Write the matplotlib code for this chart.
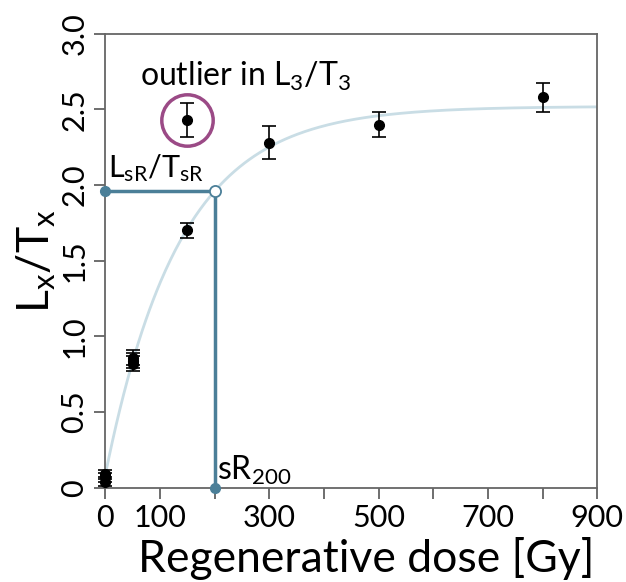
import numpy as np
import matplotlib.pyplot as plt

plt.rcParams['font.family'] = ['Lato', 'DejaVu Sans']
plt.rcParams['mathtext.default'] = 'regular'

# measured Lx/Tx points
dose = [0, 0, 0, 50, 50, 50, 150, 300, 500, 800]
ratio = [0.09, 0.07, 0.04, 0.86, 0.84, 0.82, 1.70, 2.28, 2.40, 2.58]
ratio_err = [0.03, 0.03, 0.03, 0.05, 0.05, 0.05, 0.05, 0.11, 0.08, 0.095]

# outlier in L3/T3
outlier_dose = [150]
outlier_ratio = [2.43]
outlier_err = [0.11]

# saturating exponential fit: y = b + a * (1 - exp(-x / d0))
fit_a = 2.44
fit_b = 0.08
fit_d0 = 136

# sensitivity-corrected regenerative dose
sr_dose = 200
sr_ratio = 1.96

x_ticks = [0, 100, 200, 300, 400, 500, 600, 700, 800, 900]
x_labels = ['0', '100', '', '300', '', '500', '', '700', '', '900']
y_ticks = [0, 0.5, 1.0, 1.5, 2.0, 2.5, 3.0]
y_labels = ['0', '0.5', '1.0', '1.5', '2.0', '2.5', '3.0']

fig, ax = plt.subplots(figsize=(6.26, 5.82), dpi=100)
fig.subplots_adjust(left=0.168, right=0.954, bottom=0.162, top=0.942)

xs = np.linspace(0, 900, 400)
ax.plot(xs, fit_b + fit_a * (1 - np.exp(-xs / fit_d0)), color='#c9dde5', lw=2, zorder=1)

blue = '#4b7f98'
ax.plot([0, sr_dose], [sr_ratio, sr_ratio], color=blue, lw=2.5, zorder=2, clip_on=False)
ax.plot([sr_dose, sr_dose], [sr_ratio, 0], color=blue, lw=2.5, zorder=2, clip_on=False)
ax.plot([0, sr_dose], [sr_ratio, 0], 'o', color=blue, ms=7, zorder=5, clip_on=False)
ax.plot([sr_dose], [sr_ratio], 'o', mfc='white', mec=blue, mew=1.3, ms=8, zorder=5)

ax.errorbar(dose, ratio, yerr=ratio_err, fmt='o', color='black', ms=7,
            capsize=5, elinewidth=1.2, capthick=1.2, zorder=4, clip_on=False)
ax.errorbar(outlier_dose, outlier_ratio, yerr=outlier_err, fmt='o', color='black', ms=7,
            capsize=5, elinewidth=1.2, capthick=1.2, zorder=4)
ax.plot(outlier_dose, outlier_ratio, 'o', mfc='none', mec='#9b4a86', mew=2.5, ms=37, zorder=3)

ax.text(256, 2.72, 'outlier in L$_3$/T$_3$', fontsize=23, ha='center', va='center')
ax.text(5, 2.05, 'L$_{sR}$/T$_{sR}$', fontsize=22, ha='left', va='baseline')
ax.text(205, 0.05, 'sR$_{200}$', fontsize=23, ha='left', va='baseline')

ax.set_xlim(0, 900)
ax.set_ylim(0, 3.0)
ax.set_xticks(x_ticks)
ax.set_xticklabels(x_labels)
ax.set_yticks(y_ticks)
ax.set_yticklabels(y_labels, rotation=90, va='center')
ax.tick_params(axis='both', direction='out', length=8, width=1.2, color='#555555',
               labelsize=22, pad=4)

for s in ax.spines.values():
    s.set_color('#666666')
    s.set_linewidth(1.3)

ax.set_xlabel('Regenerative dose [Gy]', fontsize=32, labelpad=3)
ax.xaxis.label.set_x(0.53)
ax.set_ylabel('L$_x$/T$_x$', fontsize=32, labelpad=2)

fig.savefig('out.png', dpi=100)
